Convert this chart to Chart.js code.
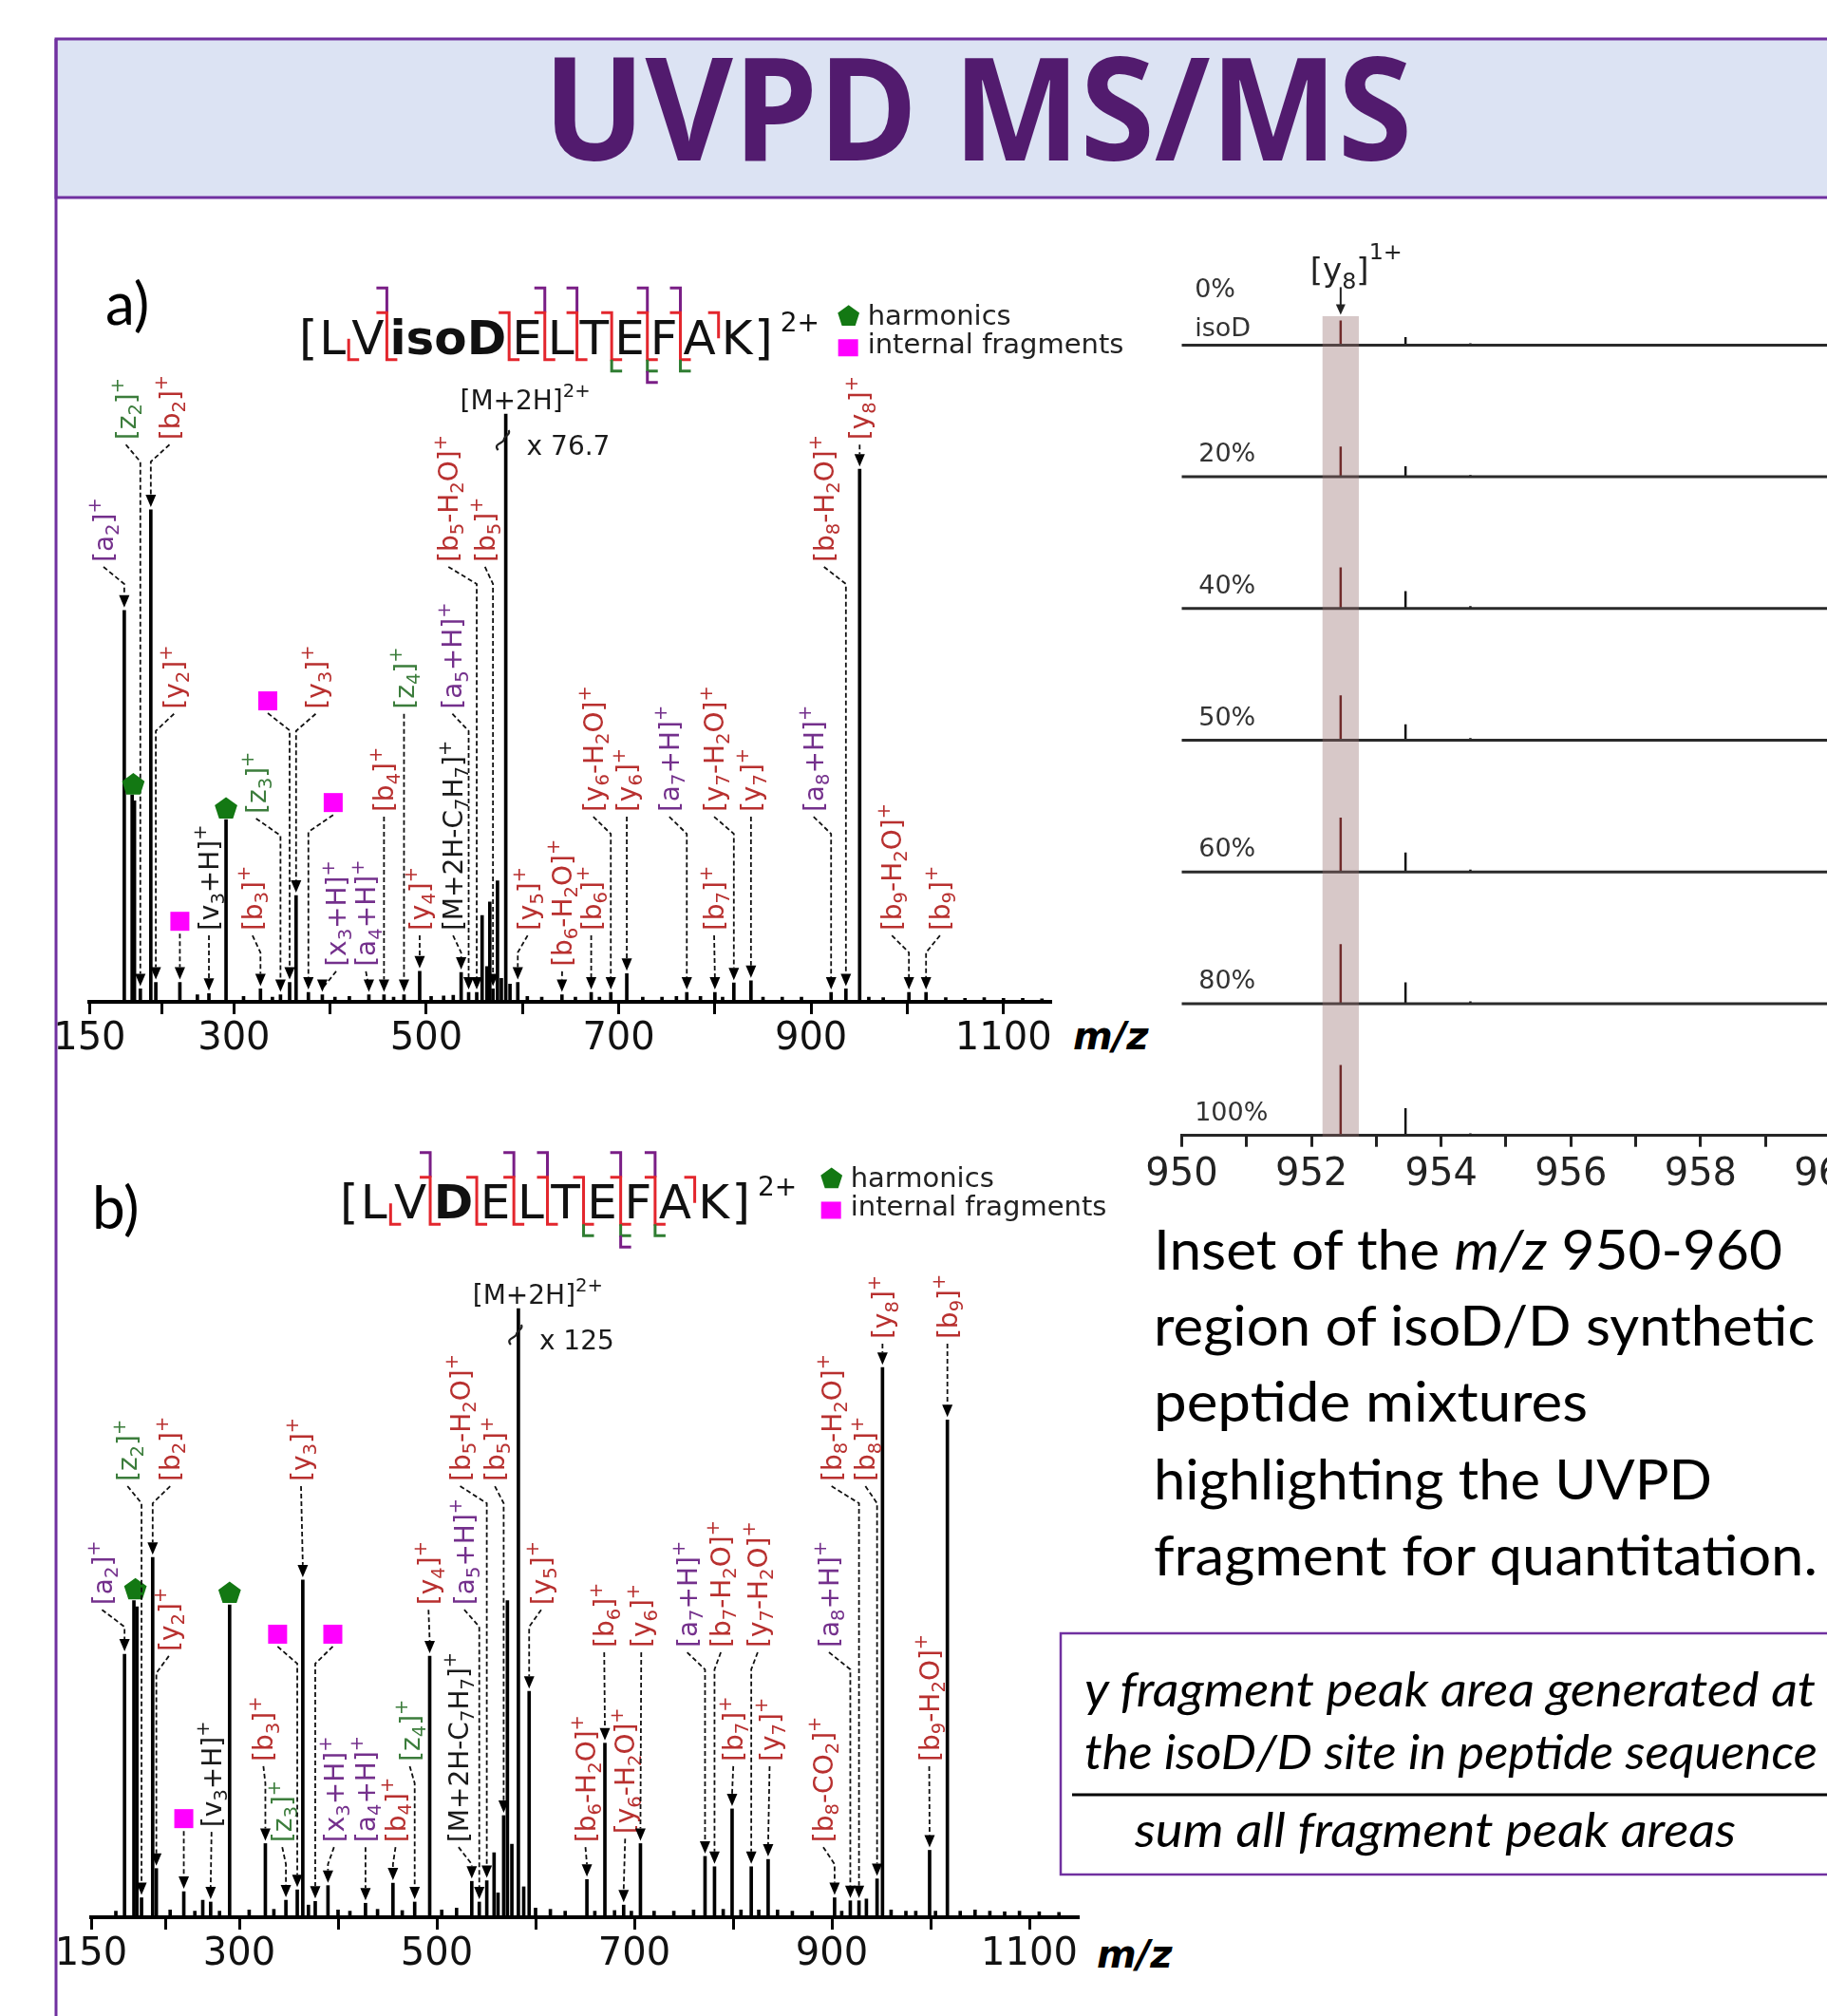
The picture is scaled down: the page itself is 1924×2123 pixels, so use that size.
<!DOCTYPE html>
<html><head><meta charset="utf-8"><title>UVPD MS/MS</title>
<script src="https://cdn.jsdelivr.net/npm/chart.js@4.4.1/dist/chart.umd.min.js"></script>
<style>
html,body{margin:0;padding:0;background:#fff;}
body{width:1924px;height:2123px;overflow:hidden;position:relative;}
#bg{position:absolute;left:0;top:0;}
canvas{position:absolute;}
</style></head>
<body>
<svg id="bg" width="1924" height="2123" xmlns="http://www.w3.org/2000/svg">
 <rect x="59" y="41" width="1920" height="167" fill="#dce3f3" stroke="#7030a0" stroke-width="3"/>
 <line x1="59" y1="41" x2="59" y2="2123" stroke="#7030a0" stroke-width="3"/>
 <text x="572" y="169" font-family="Open Sans" font-weight="700" font-size="150" fill="#521b6e" textLength="915" lengthAdjust="spacingAndGlyphs">UVPD MS/MS</text>
 <text x="111" y="342" font-family="Lato" font-size="62" fill="#000">a)</text>
 <text x="97" y="1294" font-family="Lato" font-size="62" fill="#000">b)</text>
 <text x="1130" y="1105" font-family="DejaVu Sans" font-weight="bold" font-style="italic" font-size="40" fill="#000">m/z</text>
 <text x="1155" y="2072" font-family="DejaVu Sans" font-weight="bold" font-style="italic" font-size="40" fill="#000">m/z</text>
 <g font-family="Lato" font-size="58" fill="#000">
  <text x="1215" y="1337" textLength="662" lengthAdjust="spacingAndGlyphs">Inset of the <tspan font-style="italic">m/z</tspan> 950-960</text>
  <text x="1215" y="1417" textLength="696" lengthAdjust="spacingAndGlyphs">region of isoD/D synthetic</text>
  <text x="1215" y="1497" textLength="457" lengthAdjust="spacingAndGlyphs">peptide mixtures</text>
  <text x="1215" y="1579" textLength="588" lengthAdjust="spacingAndGlyphs">highlighting the UVPD</text>
  <text x="1215" y="1659" textLength="699" lengthAdjust="spacingAndGlyphs">fragment for quantitation.</text>
 </g>
 <rect x="1117" y="1720" width="900" height="254" fill="none" stroke="#7030a0" stroke-width="2.5"/>
 <g font-family="Lato" font-style="italic" font-size="50" fill="#000">
  <text x="1142" y="1797" textLength="770" lengthAdjust="spacingAndGlyphs">y fragment peak area generated at</text>
  <text x="1142" y="1863" textLength="772" lengthAdjust="spacingAndGlyphs">the isoD/D site in peptide sequence</text>
  <text x="1195" y="1945" textLength="633" lengthAdjust="spacingAndGlyphs">sum all fragment peak areas</text>
 </g>
 <line x1="1129" y1="1890" x2="1924" y2="1890" stroke="#000" stroke-width="3"/>
</svg>
<canvas id="cA" width="1200" height="900" style="left:0;top:230px"></canvas>
<canvas id="cB" width="1220" height="900" style="left:0;top:1190px"></canvas>
<canvas id="cI" width="820" height="1080" style="left:1200px;top:240px"></canvas>
<script>
// ================= DATA =================
// x-axis ticks (m/z) for the two spectra
const xTicks = [150,225,300,400,500,600,700,800,900,1000,1100];
const xTickLabels = [150,300,500,700,900,1100];

// Panel a: [m/z, relative intensity]
const peaksA = [[186,66.6],[194.2,35.2],[196.6,34.2],[202.7,2.2],[213.6,83.7],[218.8,3.3],[243.8,3.3],[262,1.2],[274,1.4],[291.8,31],
 [310,0.9],[327.6,2.2],[340,0.8],[348.4,1.2],[357.9,3.3],[364.6,18.1],[377.4,1.6],[391.9,1.2],[405,0.8],[420,0.9],
 [440.3,1.2],[456,1.2],[466,0.8],[476.8,1.2],[493.1,5.2],[505,0.9],[518,1],[528,1.1],[536.2,5],[544,1.6],
 [552.4,1.6],[558,14.7],[563,6],[566,17],[569.3,2.2],[574,20.6],[578,4],[582.6,100],[587,3],[595.1,3.3],
 [605,0.9],[620,0.8],[641,1.2],[655,0.8],[671.4,1.6],[680,0.8],[691.8,1.6],[708.4,4.8],[725,0.8],[745,0.8],
 [760,0.9],[770.8,1.6],[785,0.9],[800,1.6],[808,0.8],[819.7,3.2],[837.5,3.6],[850,0.8],[870,0.8],[890,0.8],
 [920.8,1.6],[936.2,2.2],[950.5,90.6],[960,0.8],[975,0.7],[1001.7,1.6],[1019.5,1.6],[1040,0.7],[1060,0.6],[1080,0.7],
 [1100,0.6],[1120,0.6],[1140,0.5]];
// Panel a annotations: [label, annotated peak m/z]
const ionsA = [['[a_2]^+',186],['[z_2]^+',202.7],['[b_2]^+',213.6],['[y_2]^+',218.8],['#sq',243.8],['[v_3+H]^+',274],
 ['#pent',194.2],['#pent',291.8],['[b_3]^+',327.6],['[z_3]^+',348.4],['#sq',357.9],['[y_3]^+',364.6],['#sq',377.4],
 ['[x_3+H]^+',391.9],['[a_4+H]^+',440.3],['[b_4]^+',456],['[z_4]^+',476.8],['[y_4]^+',493.1],['[M+2H-C_7H_7]^+',536.2],
 ['[a_5+H]^+',544],['[b_5-H_2O]^+',552.4],['[b_5]^+',569.3],['[y_5]^+',595.1],['[b_6-H_2O]^+',641],['[b_6]^+',671.4],
 ['[y_6-H_2O]^+',691.8],['[y_6]^+',708.4],['[a_7+H]^+',770.8],['[b_7]^+',800],['[y_7-H_2O]^+',819.7],['[y_7]^+',837.5],
 ['[a_8+H]^+',920.8],['[b_8-H_2O]^+',936.2],['[y_8]^+',950.5],['[b_9-H_2O]^+',1001.7],['[b_9]^+',1019.5]];
// Panel a label anchors in axis units [m/z, level]
const labelPosA = [[164.4,74.8],[187.7,95.6],[233,95.6],[237.7,49.8],[243.8,13.7],[274,12.1],
 [195.4,36.9],[291.8,32.8],[319.3,12.1],[323,32],[335.2,51.2],[385,49.8],[403.2,33.9],
 [406.3,6],[437.2,6],[456,32.3],[476.8,49.8],[493.1,12.1],[527.8,12.1],
 [527.1,49.8],[523,74.8],[561,74.8],[605.3,12.1],[641.2,6],[671.4,12.1],
 [673.6,32.3],[708.4,32.3],[752.6,32.3],[799.2,12.1],[799.2,32.3],[837.5,32.3],
 [902.6,32.3],[913.4,74.8],[950.5,95.6],[984,12.1],[1034,12.1]];

// Panel b
const peaksB = [[175,1],[183.8,43.2],[193.3,52],[196.3,51],[201,3.2],[212.3,59.1],[216,8],[230,1.2],[243.8,4.2],[255,1],
 [263,2.8],[271,2.5],[280,1],[290.2,51.3],[310,1.2],[326.4,12.1],[335,1.3],[347.2,2.8],[358.7,4.5],[364.3,55.4],
 [370,2],[376.9,2.6],[389.8,5.2],[400,1.2],[412,1],[427.8,2.3],[440,1.3],[455.6,5.6],[465,1.1],[477.6,2.5],
 [492.8,42.9],[505,1.2],[520,1.5],[535.4,5.9],[543,2.5],[550.6,6],[558,10.6],[562,4],[567.7,16.7],[571.5,52],
 [576,12],[582.6,100],[588,5],[593.5,37.1],[600,1.5],[615,1.3],[630,1],[652,6.2],[660,1],[670.2,28.6],
 [680,1.1],[689.2,2],[697,1],[706.2,12.1],[720,1],[740,1],[760,1.2],[771.6,10],[781.2,8.3],[790,1.3],
 [799,17.8],[808,1.2],[818.4,8.3],[826,1.2],[835.5,9.5],[845,1.2],[860,1],[880,1],[902.8,3.2],[910,1],
 [918.7,2.7],[927.5,2.7],[935,3],[945.8,6.3],[951.3,90.3],[960,1.2],[975,1],[985,1],[999,11],[1005,1],
 [1017,81.7],[1030,1],[1045,1.2],[1060,1],[1075,0.9],[1090,1],[1110,0.9],[1130,0.8]];
const ionsB = [['[a_2]^+',183.8],['#pent',193.3],['[z_2]^+',201],['[b_2]^+',212.3],['[y_2]^+',216],['#sq',243.8],
 ['[v_3+H]^+',271],['#pent',290.2],['[b_3]^+',326.4],['[z_3]^+',347.2],['#sq',358.7],['[y_3]^+',364.3],['#sq',376.9],
 ['[x_3+H]^+',389.8],['[a_4+H]^+',427.8],['[b_4]^+',455.6],['[z_4]^+',477.6],['[y_4]^+',492.8],['[M+2H-C_7H_7]^+',535.4],
 ['[a_5+H]^+',543],['[b_5-H_2O]^+',550.6],['[b_5]^+',567.7],['[y_5]^+',593.5],['[b_6-H_2O]^+',652],['[b_6]^+',670.2],
 ['[y_6-H_2O]^+',689.2],['[y_6]^+',706.2],['[a_7+H]^+',771.6],['[b_7-H_2O]^+',781.2],['[y_7-H_2O]^+',818.4],
 ['[b_7]^+',799],['[y_7]^+',835.5],['[b_8-CO_2]^+',902.8],['[a_8+H]^+',918.7],['[b_8-H_2O]^+',927.5],['[b_8]^+',945.8],
 ['[y_8]^+',951.3],['[b_9-H_2O]^+',999],['[b_9]^+',1017]];
const labelPosB = [[161,51.3],[194.8,53.8],[186.8,71.6],[230,71.6],[228.7,43.7],[243.8,16.2],
 [271.9,14.8],[290.2,53.2],[324.4,25.6],[343.5,12.3],[338.8,46.5],[362.5,71.6],[394.7,46.5],
 [395.9,12.3],[427.8,12.3],[458.2,12.3],[472.6,25.6],[491.6,51.3],[522,12.3],
 [527.8,51.3],[523.6,71.6],[558.8,71.6],[605.7,51.3],[650.5,12.3],[669.5,44.3],
 [690.7,13.7],[707,44.3],[753.5,44.3],[787.6,44.3],[824.9,44.3],
 [800.2,25.6],[837,25.6],[891.3,12.3],[897.1,44.3],[899.7,71.6],[934,71.6],
 [951.3,95],[998.6,25.6],[1017,95]];

// Sequences and cleavage marks between residues
const residuesA = ['L','V','isoD','E','L','T','E','F','A','K'];
const residuesB = ['L','V','D','E','L','T','E','F','A','K'];
const siteMarks = ['B','PTB','TB','PTB','PTB','TBG','PTBGQ','PTBG','T'];

// Inset (m/z 950-960)
const insetTicks = [950,951,952,953,954,955,956,957,958,959,960,961];
const insetTickLabels = [950,952,954,956,958,960];
const insetLabels = ['0%','20%','40%','50%','60%','80%','100%'];
const insetPeakMz = [952.45,953.45,954.45];
const insetMain = [35,43,58.3,63.7,77,84.5,100];
const insetIso1 = [11.2,14.8,24.6,22.6,27.5,30.3,38.5];
const insetIso2 = [2.5,2.5,3.5,3,3.5,3.5,3];

// ================= DRAWING =================
Chart.defaults.font.family = '"DejaVu Sans", sans-serif';
const RED='#b8302f', PURPLE='#74308c', GREEN='#3c7d3c', BLACK='#1a1a1a';
const MRED='#e3262d', MPUR='#7a1e86', MGRN='#2f7d32';
const LBL=28;
function ionColor(t){const c=t[1]; if(c==='a'||c==='x')return PURPLE; if(c==='b'||c==='y')return RED; if(c==='z')return GREEN; return BLACK;}
function richParts(s){const out=[];let i=0;while(i<s.length){const c=s[i];
  if(c==='_'){out.push({t:s[i+1],m:1});i+=2;}
  else if(c==='^'){out.push({t:s.slice(i+1),m:2});break;}
  else{let j=i;while(j<s.length&&s[j]!=='_'&&s[j]!=='^')j++;out.push({t:s.slice(i,j),m:0});i=j;}}
  return out;}
function drawRich(ctx,s,size,x,y,supRaise){let cx=x;
  for(const p of richParts(s)){const fs=p.m?size*0.7:size;ctx.font=fs+'px "DejaVu Sans"';
    const dy=p.m===1?size*0.22:(p.m===2?-size*(supRaise||0.45):0);
    ctx.fillText(p.t,cx,y+dy);cx+=ctx.measureText(p.t).width;}
  return cx-x;}
function rotLabel(ctx,t,x,y,color){ctx.save();ctx.translate(x,y);ctx.rotate(-Math.PI/2);ctx.fillStyle=color;drawRich(ctx,t,LBL,0,LBL*0.36);ctx.restore();}
function pent(ctx,cx,cy,r){ctx.beginPath();for(let k=0;k<5;k++){const a=-Math.PI/2+k*2*Math.PI/5;ctx.lineTo(cx+r*Math.cos(a),cy+r*Math.sin(a));}ctx.closePath();ctx.fillStyle='#137813';ctx.fill();}
function arrowHead(ctx,x,tip,len,hw){ctx.fillStyle='#000';ctx.beginPath();ctx.moveTo(x,tip);ctx.lineTo(x-hw,tip-len);ctx.lineTo(x+hw,tip-len);ctx.closePath();ctx.fill();}
function connector(ctx,lx,y0,px,tip){
  const ah=13;ctx.strokeStyle='#111';ctx.lineWidth=1.8;ctx.setLineDash([5,3]);
  ctx.beginPath();ctx.moveTo(lx,y0);let y1=y0;
  if(Math.abs(lx-px)>2){y1=y0+18;ctx.lineTo(px,y1);}
  if(tip-ah>y1)ctx.lineTo(px,tip-ah);
  ctx.stroke();ctx.setLineDash([]);arrowHead(ctx,px,tip,ah,5.5);}
function drawSeq(ctx,residues,boldIdx,x,yb,gap){
  const fs=50,F=b=>(b?'bold ':'')+fs+'px "DejaVu Sans"';
  ctx.fillStyle='#111';let cx=x;ctx.font=F(false);ctx.fillText('[',cx,yb);cx+=ctx.measureText('[').width+gap*0.3;
  const sites=[];
  residues.forEach((r,i)=>{ctx.font=F(i===boldIdx);ctx.fillText(r,cx,yb);cx+=ctx.measureText(r).width;
    if(i<residues.length-1){sites.push(cx+gap/2);cx+=gap;}});
  ctx.font=F(false);cx+=gap*0.3;ctx.fillText(']',cx,yb);cx+=ctx.measureText(']').width;
  ctx.font='28px "DejaVu Sans"';ctx.fillText('2+',cx+8,yb-24);
  const capTop=yb-fs*0.73,yT=capTop-7,yB=yb+6,h=11;
  ctx.lineWidth=3;
  const seg=(c,pts)=>{ctx.strokeStyle=c;ctx.beginPath();ctx.moveTo(pts[0],pts[1]);for(let k=2;k<pts.length;k+=2)ctx.lineTo(pts[k],pts[k+1]);ctx.stroke();};
  sites.forEach((sx,k)=>{const m=siteMarks[k],T=m.includes('T'),B=m.includes('B');
    if(m.includes('P'))seg(MPUR,[sx-h,yT-26,sx,yT-26,sx,yT]);
    if(T&&B)seg(MRED,[sx-h,yT,sx,yT,sx,yB,sx+h,yB]);
    else if(T)seg(MRED,[sx-h,yT,sx,yT,sx,capTop+20]);
    else if(B)seg(MRED,[sx,yb-16,sx,yB,sx+h,yB]);
    if(m.includes('G'))seg(MGRN,[sx,yB,sx,yB+12,sx+h,yB+12]);
    if(m.includes('Q'))seg(MPUR,[sx,yB+12,sx,yB+24,sx+h,yB+24]);});
}
function specPlugin(P){return{id:'spec'+P.id,afterDatasetsDraw(chart){
  const ctx=chart.ctx,xs=chart.scales.x,ys=chart.scales.y;
  const X=v=>xs.getPixelForValue(v),Y=v=>ys.getPixelForValue(v);
  const hOf=mz=>{let b=P.peaks[0];for(const p of P.peaks){if(Math.abs(p[0]-mz)<Math.abs(b[0]-mz))b=p;}return b[1];};
  ctx.save();ctx.textBaseline='alphabetic';ctx.textAlign='left';
  P.ions.forEach((ion,i)=>{const t=ion[0],pk=ion[1],lx=X(P.pos[i][0]),ly=Y(P.pos[i][1]);
    const px=X(pk),tip=Y(hOf(pk))-3;
    if(t==='#pent'){pent(ctx,lx,ly,12.5);return;}
    let y0;
    if(t==='#sq'){ctx.fillStyle='#ff00ff';ctx.fillRect(lx-10,ly-10,20,20);y0=ly+13;}
    else{rotLabel(ctx,t,lx,ly,ionColor(t));y0=ly+5;}
    connector(ctx,lx,y0,px,tip);});
  // precursor label
  const ppx=X(P.prec[0]),ptop=Y(hOf(P.prec[0]));
  ctx.fillStyle=BLACK;ctx.font=LBL+'px "DejaVu Sans"';const w=ctx.measureText('[M+2H]').width;
  drawRich(ctx,'[M+2H]^2+',LBL,ppx-w/2+6,ptop-5);
  ctx.font=LBL+'px "DejaVu Sans"';ctx.fillText(P.prec[1],ppx+22,ptop+43);
  // axis-break squiggle across the clipped precursor peak
  ctx.strokeStyle='#222';ctx.lineWidth=2.2;ctx.beginPath();
  ctx.moveTo(ppx-8,ptop+38);ctx.bezierCurveTo(ppx-14,ptop+31,ppx-2,ptop+31,ppx-2,ptop+27);
  ctx.bezierCurveTo(ppx-2,ptop+23,ppx+6,ptop+22,ppx+3,ptop+17);ctx.stroke();
  // sequence
  drawSeq(ctx,P.res,2,X(P.seqAt[0]),Y(P.seqAt[1]),P.gap);
  // legend
  const gx=X(P.legAt[0]),gy=Y(P.legAt[1]);
  pent(ctx,gx,gy,12);ctx.fillStyle='#ff00ff';ctx.fillRect(gx-11,gy+24,21,18);
  ctx.fillStyle='#222';ctx.font='29px "DejaVu Sans"';ctx.fillText('harmonics',gx+20,gy+9);ctx.fillText('internal fragments',gx+20,gy+39);
  ctx.restore();}};}
function specChart(id,P,yMax,pad){
  return new Chart(document.getElementById(id),{type:'bar',
    data:{datasets:[{data:P.peaks.map(p=>({x:p[0],y:p[1]})),backgroundColor:'#000',borderWidth:0,barThickness:3}]},
    options:{responsive:false,animation:false,events:[],layout:{padding:pad},
      plugins:{legend:{display:false},tooltip:{enabled:false}},
      scales:{x:{type:'linear',min:150,max:1150,offset:false,
          afterBuildTicks:s=>{s.ticks=xTicks.map(v=>({value:v}));},
          afterFit:s=>{s.height=60;},
          grid:{display:true,drawOnChartArea:false,drawTicks:true,tickLength:13,tickWidth:3,tickColor:'#000',offset:false},
          border:{display:true,width:4,color:'#000'},
          ticks:{autoSkip:false,maxRotation:0,padding:3,color:'#111',font:{size:40,family:'"DejaVu Sans"'},callback:v=>xTickLabels.includes(v)?String(v):''}},
        y:{display:false,min:0,max:yMax}}},
    plugins:[specPlugin(P)]});}

specChart('cA',{id:'A',peaks:peaksA,ions:ionsA,pos:labelPosA,res:residuesA,seqAt:[367.8,110.2],legAt:[939,116.6],prec:[582.6,'x 76.7'],gap:6},
  (1055-230)/6.19,{left:94.4,right:92.6,top:0,bottom:15});
specChart('cB',{id:'B',peaks:peaksB,ions:ionsB,pos:labelPosB,res:residuesB,seqAt:[401.9,114.8],legAt:[899.7,121.3],prec:[582.6,'x 125'],gap:7.5},
  (2019-1190)/6.41,{left:96,right:84,top:0,bottom:11});

// ---- inset ----
const TRACE_STEP=186.7;
const traceOffset=i=>(insetLabels.length-1-i)*TRACE_STEP;
const segs=(mz,vals)=>vals.flatMap((h,i)=>[{x:mz,y:traceOffset(i)},{x:mz,y:traceOffset(i)+h},{x:mz,y:null}]);
const insetPlugin={id:'inset',afterDatasetsDraw(chart){
  const ctx=chart.ctx,X=v=>chart.scales.x.getPixelForValue(v),Y=v=>chart.scales.y.getPixelForValue(v);
  const top=traceOffset(0)+41;
  ctx.save();
  ctx.fillStyle='rgba(150,110,110,0.38)';
  ctx.fillRect(X(952.17),Y(top),X(952.73)-X(952.17),Y(0)-Y(top)+1);
  ctx.fillStyle='#333';ctx.font='27px "DejaVu Sans"';ctx.textBaseline='alphabetic';
  insetLabels.forEach((lab,i)=>{const yb=Y(traceOffset(i));
    if(i===0){ctx.fillText(lab,X(950.2),yb-50);ctx.fillText('isoD',X(950.2),yb-9);}
    else ctx.fillText(lab,X(i===insetLabels.length-1?950.2:950.26),yb-16);});
  const px=X(insetPeakMz[0]),y0=Y(traceOffset(0));
  ctx.fillStyle='#222';drawRich(ctx,'[y_8]^1+',34,px-32,y0-67,0.7);
  ctx.strokeStyle='#222';ctx.lineWidth=2;ctx.beginPath();ctx.moveTo(px,y0-61);ctx.lineTo(px,y0-40);ctx.stroke();
  ctx.fillStyle='#222';ctx.beginPath();ctx.moveTo(px,y0-32);ctx.lineTo(px-5,y0-43);ctx.lineTo(px+5,y0-43);ctx.closePath();ctx.fill();
  ctx.restore();}};
new Chart(document.getElementById('cI'),{type:'scatter',
  data:{datasets:[
    {data:insetLabels.flatMap((_,i)=>[{x:949.97,y:traceOffset(i)},{x:961,y:traceOffset(i)},{x:961,y:null}]),borderColor:'#2a2a2a',borderWidth:3,showLine:true,pointRadius:0,spanGaps:false},
    {data:segs(insetPeakMz[1],insetIso1).concat(segs(insetPeakMz[2],insetIso2)),borderColor:'#111',borderWidth:2.5,showLine:true,pointRadius:0,spanGaps:false},
    {data:segs(insetPeakMz[0],insetMain),borderColor:'#5a0000',borderWidth:2.5,showLine:true,pointRadius:0,spanGaps:false}]},
  options:{responsive:false,animation:false,events:[],layout:{padding:{left:44.5,right:24.2,top:0,bottom:64.3}},
    plugins:{legend:{display:false},tooltip:{enabled:false}},
    scales:{x:{type:'linear',min:950,max:961,
        afterBuildTicks:s=>{s.ticks=insetTicks.map(v=>({value:v}));},
        afterFit:s=>{s.height=60;},
        grid:{display:true,drawOnChartArea:false,tickLength:12,tickWidth:3,tickColor:'#222'},
        border:{display:true,width:3,color:'#222'},
        ticks:{autoSkip:false,maxRotation:0,padding:6,color:'#222',font:{size:40,family:'"DejaVu Sans"'},callback:v=>insetTickLabels.includes(v)?String(v):''}},
      y:{display:false,min:0,max:955.7/0.743}}},
  plugins:[insetPlugin]});
</script>
</body></html>
